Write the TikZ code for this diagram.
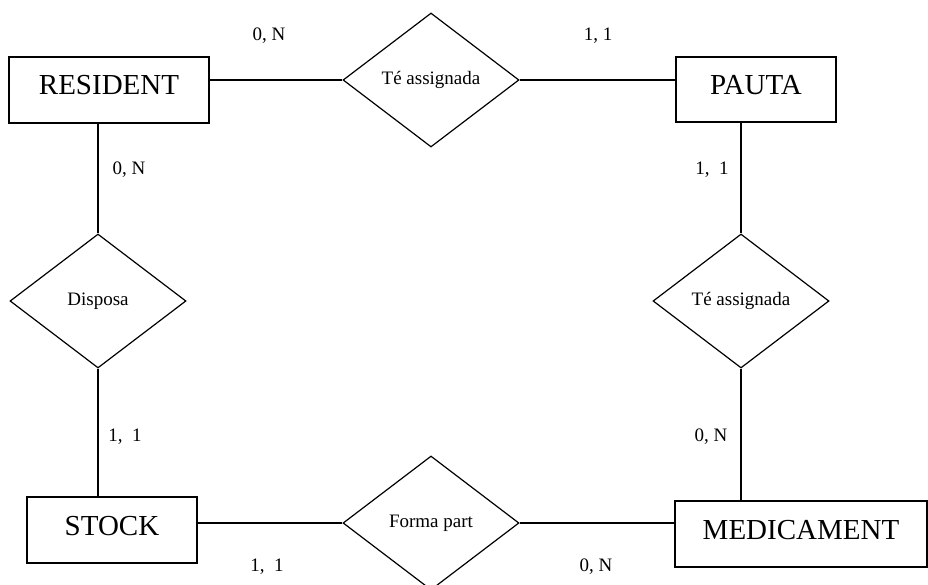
\documentclass[tikz,border=0pt]{standalone}
\usepackage{fontspec}
\setmainfont{Liberation Serif}
\usetikzlibrary{shapes.geometric}
\begin{document}
\begin{tikzpicture}[x=1pt,y=-1pt,
  entity/.style={draw,line width=1.2pt,rectangle,inner sep=0pt,
    font=\fontsize{29}{34}\selectfont,text height=19.2pt,text depth=9.2pt},
  relation/.style={draw,line width=1.2pt,diamond,inner sep=0pt,
    minimum width=176pt,minimum height=134pt,font=\fontsize{19}{22}\selectfont},
  card/.style={inner sep=0pt,font=\fontsize{19}{22}\selectfont},
  conn/.style={line width=1.2pt}]
\useasboundingbox (0,0) rectangle (928,585);
\clip (0,0) rectangle (928,585);
\fill[white] (0,0) rectangle (928,585);
% entities
\node[entity,minimum width=200pt,minimum height=66pt] (res) at (109,90) {RESIDENT};
\node[entity,minimum width=160pt,minimum height=65pt] (pauta) at (756,89.5) {PAUTA};
\node[entity,minimum width=170pt,minimum height=66pt] (stock) at (112,530) {STOCK};
\node[entity,minimum width=252pt,minimum height=66pt] (med) at (801,534) {MEDICAMENT};
% relations
\node[relation] (r1) at (431,80) {Té assignada};
\node[relation] (r2) at (98,301) {Disposa};
\node[relation] (r3) at (741,301) {Té assignada};
\node[relation] (r4) at (431,523) {Forma part};
% connectors
\draw[conn] (r1.west -| res.east) -- (r1.west);
\draw[conn] (r1.east) -- (r1.east -| pauta.west);
\draw[conn] (r2.north |- res.south) -- (r2.north);
\draw[conn] (r2.south) -- (r2.south |- stock.north);
\draw[conn] (r3.north |- pauta.south) -- (r3.north);
\draw[conn] (r3.south) -- (r3.south |- med.north);
\draw[conn] (r4.west -| stock.east) -- (r4.west);
\draw[conn] (r4.east) -- (r4.east -| med.west);
% cardinalities
\node[card] (c1) at (269,36) {0, N};
\node[card] (c2) at (598,36) {1, 1};
\node[card] (c3) at (129,170) {0, N};
\node[card] (c4) at (712,170) {1,\ \ 1};
\node[card] (c5) at (125,437) {1,\ \ 1};
\node[card] (c6) at (711,437) {0, N};
\node[card] (c7) at (267,567) {1,\ \ 1};
\node[card] (c8) at (596,567) {0, N};
\end{tikzpicture}
\end{document}
